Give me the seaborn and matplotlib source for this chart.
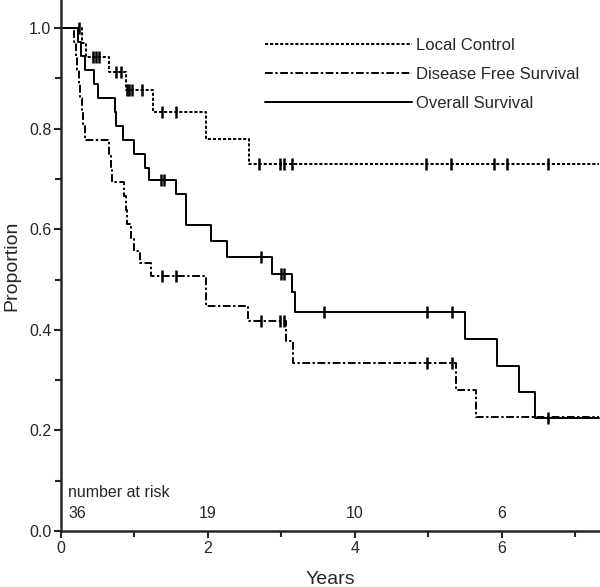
import matplotlib
matplotlib.use('Agg')
import matplotlib.pyplot as plt
import seaborn as sns
import pandas as pd
import numpy as np

# Kaplan-Meier step data (time in years, proportion after each drop)
lc_times = [0, 0.28, 0.34, 0.65, 0.885, 1.25, 1.97, 2.56]
lc_surv = [1.0, 0.971, 0.943, 0.912, 0.877, 0.833, 0.780, 0.729]
lc_cens = [0.24, 0.43, 0.47, 0.52, 0.75, 0.82, 0.90, 0.93, 0.97, 1.10, 1.38, 1.57,
           2.70, 2.98, 3.03, 3.14, 4.97, 5.31, 5.90, 6.08, 6.63]

dfs_times = [0, 0.18, 0.20, 0.22, 0.24, 0.26, 0.28, 0.30, 0.33, 0.65, 0.68, 0.70,
             0.86, 0.88, 0.90, 0.95, 1.00, 1.07, 1.23, 1.97, 2.54, 3.07, 3.16,
             5.38, 5.65]
dfs_surv = [1.0, 0.972, 0.944, 0.917, 0.889, 0.861, 0.833, 0.806, 0.778, 0.750,
            0.722, 0.694, 0.667, 0.639, 0.611, 0.583, 0.556, 0.533, 0.507, 0.447,
            0.417, 0.377, 0.335, 0.281, 0.226]
dfs_cens = [1.38, 1.57, 2.72, 2.98, 3.03, 4.99, 5.32]

os_times = [0, 0.23, 0.27, 0.33, 0.45, 0.50, 0.73, 0.75, 0.84, 1.00, 1.14, 1.20,
            1.57, 1.70, 2.04, 2.26, 2.88, 3.15, 3.18, 5.50, 5.94, 6.24, 6.46]
os_surv = [1.0, 0.972, 0.944, 0.917, 0.889, 0.861, 0.833, 0.806, 0.778, 0.750,
           0.722, 0.699, 0.670, 0.608, 0.576, 0.545, 0.512, 0.475, 0.436, 0.382,
           0.329, 0.277, 0.225]
os_cens = [1.36, 1.40, 2.72, 3.00, 3.04, 3.58, 4.99, 5.32, 6.63]

risk_years = [0, 2, 4, 6]
risk_counts = ['36', '19', '10', '6']

x_end = 7.33

sns.set_style('ticks')
plt.rcParams['font.family'] = ['Liberation Sans', 'DejaVu Sans']

curves = [('Local Control', lc_times, lc_surv, lc_cens),
          ('Disease Free Survival', dfs_times, dfs_surv, dfs_cens),
          ('Overall Survival', os_times, os_surv, os_cens)]

rows = []
for name, t, s, _ in curves:
    for ti, si in zip(t + [x_end], s + [s[-1]]):
        rows.append({'Years': ti, 'Proportion': si, 'curve': name})
df = pd.DataFrame(rows)

fig = plt.figure(figsize=(6, 5.87), dpi=100)
ax = fig.add_axes([61 / 600, 1 - 531 / 587, 539 / 600, 531 / 587])

dash_map = {'Local Control': (1.6, 1.0),
            'Disease Free Survival': (4.0, 1.3, 1.2, 1.3),
            'Overall Survival': ''}
sns.lineplot(data=df, x='Years', y='Proportion', style='curve', dashes=dash_map,
             color='black', linewidth=1.4, drawstyle='steps-post', estimator=None,
             sort=False, ax=ax, legend=True)

# censoring ticks
for name, t, s, cens in curves:
    idx = np.searchsorted(t, cens, side='right') - 1
    ax.plot(cens, np.array(s)[idx], linestyle='none', marker='|', color='black',
            markersize=9, markeredgewidth=1.8)

handles, labels = ax.get_legend_handles_labels()
ax.legend(handles[:3], ['Local Control', 'Disease Free Survival', 'Overall Survival'],
          frameon=False, loc='upper left', bbox_to_anchor=(265 / 600, 1 - 38 / 587),
          bbox_transform=fig.transFigure, fontsize=12, handlelength=8.8,
          handletextpad=0.25, labelspacing=0.85, borderpad=0, borderaxespad=0)

ax.set_xlim(0, 7.34)
ax.set_ylim(0, 1.056)
ax.set_xticks([0, 2, 4, 6])
ax.set_xticks([1, 3, 5, 7], minor=True)
ax.set_yticks([0.0, 0.2, 0.4, 0.6, 0.8, 1.0])
ax.set_yticks([0.1, 0.3, 0.5, 0.7, 0.9], minor=True)
ax.set_yticklabels(['0.0', '0.2', '0.4', '0.6', '0.8', '1.0'])
ax.tick_params(which='major', direction='out', length=5, width=1.5, labelsize=11.5, pad=2)
ax.tick_params(which='minor', direction='out', length=4, width=1.5)
for side in ['left', 'bottom']:
    ax.spines[side].set_linewidth(1.8)
sns.despine(ax=ax)

ax.set_xlabel('Years', fontsize=14, labelpad=11)
ax.set_ylabel('Proportion', fontsize=14, labelpad=6)

# number at risk table
ax.text(0.1, 0.077, 'number at risk', fontsize=11.5, ha='left', va='center')
for yr, n in zip(risk_years, risk_counts):
    if yr == 0:
        ax.text(0.1, 0.035, n, fontsize=11.5, ha='left', va='center')
    else:
        ax.text(yr, 0.035, n, fontsize=11.5, ha='center', va='center')

fig.savefig('out.png', dpi=100)
